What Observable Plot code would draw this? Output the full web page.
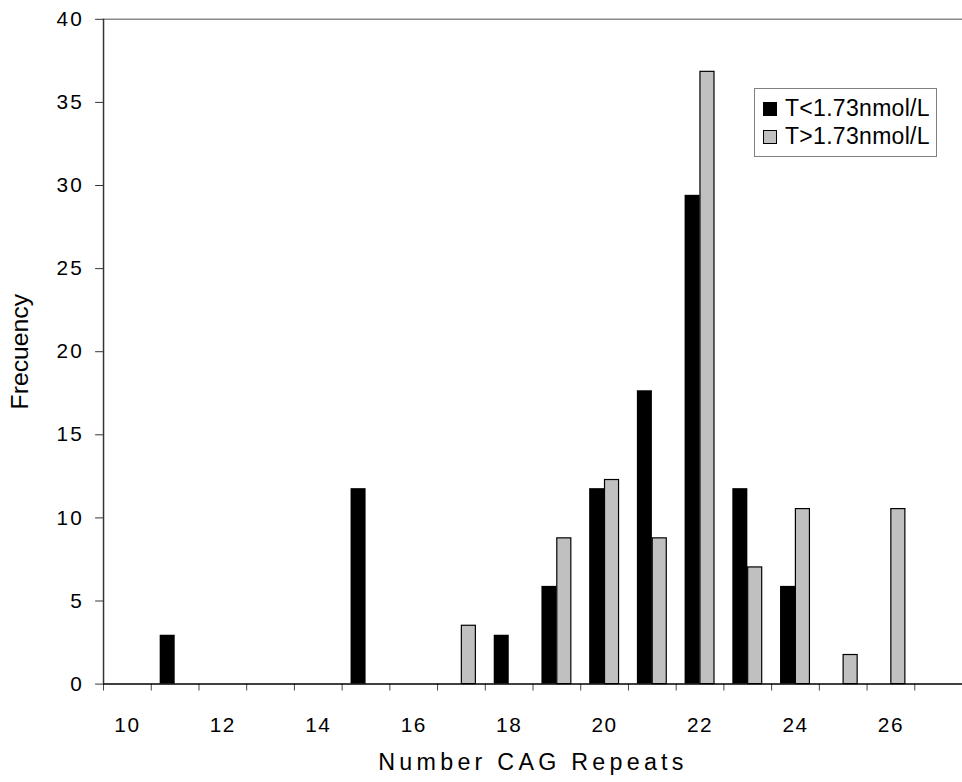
<!DOCTYPE html>
<html>
<head>
<meta charset="utf-8">
<script src="https://cdn.jsdelivr.net/npm/d3@7"></script>
<script src="https://cdn.jsdelivr.net/npm/@observablehq/plot@0.6"></script>
<style>
  body { margin: 0; background: #fff; overflow: hidden; }
  #chart { position: relative; width: 962px; height: 782px; overflow: hidden; font-family: "Liberation Sans", Arial, sans-serif; }
  #chart svg { position: absolute; left: 0; top: 0; }
  #chart [aria-label="y-axis tick label"] text { letter-spacing: 2px; }
  #chart [aria-label="x-axis tick label"] text { letter-spacing: 1.5px; }
  .legend { position: absolute; left: 754px; top: 88px; width: 181px; height: 67px; border: 1px solid #808080; background: #fff; }
  .legend .sw { position: absolute; left: 8px; width: 14px; height: 14px; box-sizing: border-box; border: 1px solid #000; }
  .legend .lb { position: absolute; left: 30px; font-size: 23px; line-height: 23px; color: #000; white-space: nowrap; letter-spacing: 0.3px; }
</style>
</head>
<body>
<div id="chart"></div>
<script>
// Distribution of CAG repeat lengths, by testosterone group (% of each group)
const repeats = [11, 15, 17, 18, 19, 20, 21, 22, 23, 24, 25, 26];
const lowT    = [2.94, 11.76, 0, 2.94, 5.88, 11.76, 17.65, 29.41, 11.76, 5.88, 0, 0];
const highT   = [0, 0, 3.51, 0, 8.77, 12.28, 8.77, 36.84, 7.02, 10.53, 1.75, 10.53];
const groups  = ["T<1.73nmol/L", "T>1.73nmol/L"];
const groupColors = ["#000000", "#c0c0c0"];

// Axis ticks: category boundaries, labelled categories, frequency ticks
const categoryEdges = d3.range(10, 28);
const labelledRepeats = [10, 12, 14, 16, 18, 20, 22, 24, 26];
const freqTicks = [0, 5, 10, 15, 20, 25, 30, 35, 40];
const xTitle = "Number CAG Repeats";
const yTitle = "Frecuency";

const rows = repeats.flatMap((r, i) => [
  {repeat: r, group: groups[0], freq: lowT[i]},
  {repeat: r, group: groups[1], freq: highT[i]}
]).filter(d => d.freq > 0);

const font = "'Liberation Sans', Arial, sans-serif";

const chart = Plot.plot({
  width: 971,
  height: 782,
  marginTop: 19,
  marginBottom: 92,
  marginLeft: 104,
  marginRight: 0,
  style: {fontFamily: font, background: "white", color: "black", overflow: "hidden"},
  x: {domain: [10, 28]},
  y: {domain: [0, 40]},
  marks: [
    // top border of the plot area
    Plot.ruleY([40], {stroke: "#8a8a8a", strokeWidth: 1.5}),
    // grouped bars: each repeat count occupies one unit band
    Plot.rectY(rows.filter(d => d.group === groups[0]), {
      x: "repeat", interval: 1, y: "freq",
      fill: groupColors[0], insetLeft: 9, insetRight: 24
    }),
    Plot.rectY(rows.filter(d => d.group === groups[1]), {
      x: "repeat", interval: 1, y: "freq",
      fill: groupColors[1], stroke: "#000", strokeWidth: 1.2, insetLeft: 24.5, insetRight: 9.5
    }),
    // y axis
    Plot.axisY({
      ticks: freqTicks, tickSize: 8, tickPadding: 12, fontSize: 21,
      stroke: "#333", label: null
    }),
    Plot.ruleX([10], {stroke: "#333", strokeWidth: 1.5}),
    // x axis: tick marks on category edges, labels centred in each band
    Plot.axisX({ticks: categoryEdges, tickSize: 7, tickFormat: () => "", stroke: "#444", label: null}),
    Plot.axisX({
      ticks: labelledRepeats.map(d => d + 0.5), tickSize: 0, tickPadding: 33,
      tickFormat: d => String(d - 0.5), fontSize: 21, label: null
    }),
    Plot.ruleY([0], {stroke: "#000", strokeWidth: 1.5}),
    // axis titles
    Plot.text([xTitle], {frameAnchor: "bottom", dy: 79, lineAnchor: "middle", fontSize: 23.5}),
    Plot.text([yTitle], {frameAnchor: "left", dx: -84, rotate: -90, textAnchor: "middle", fontSize: 25})
  ]
});

d3.select(chart).selectAll("text")
  .filter(function () { return this.textContent === xTitle; })
  .style("letter-spacing", "4.3px");

const root = document.getElementById("chart");
root.appendChild(chart);

// legend box inside the plot area
const legend = document.createElement("div");
legend.className = "legend";
groups.forEach((g, i) => {
  const sw = document.createElement("div");
  sw.className = "sw";
  sw.style.top = (13 + i * 27.5) + "px";
  sw.style.background = groupColors[i];
  legend.appendChild(sw);
  const lb = document.createElement("div");
  lb.className = "lb";
  lb.style.top = (7.5 + i * 28) + "px";
  lb.textContent = g;
  legend.appendChild(lb);
});
root.appendChild(legend);
</script>
</body>
</html>
